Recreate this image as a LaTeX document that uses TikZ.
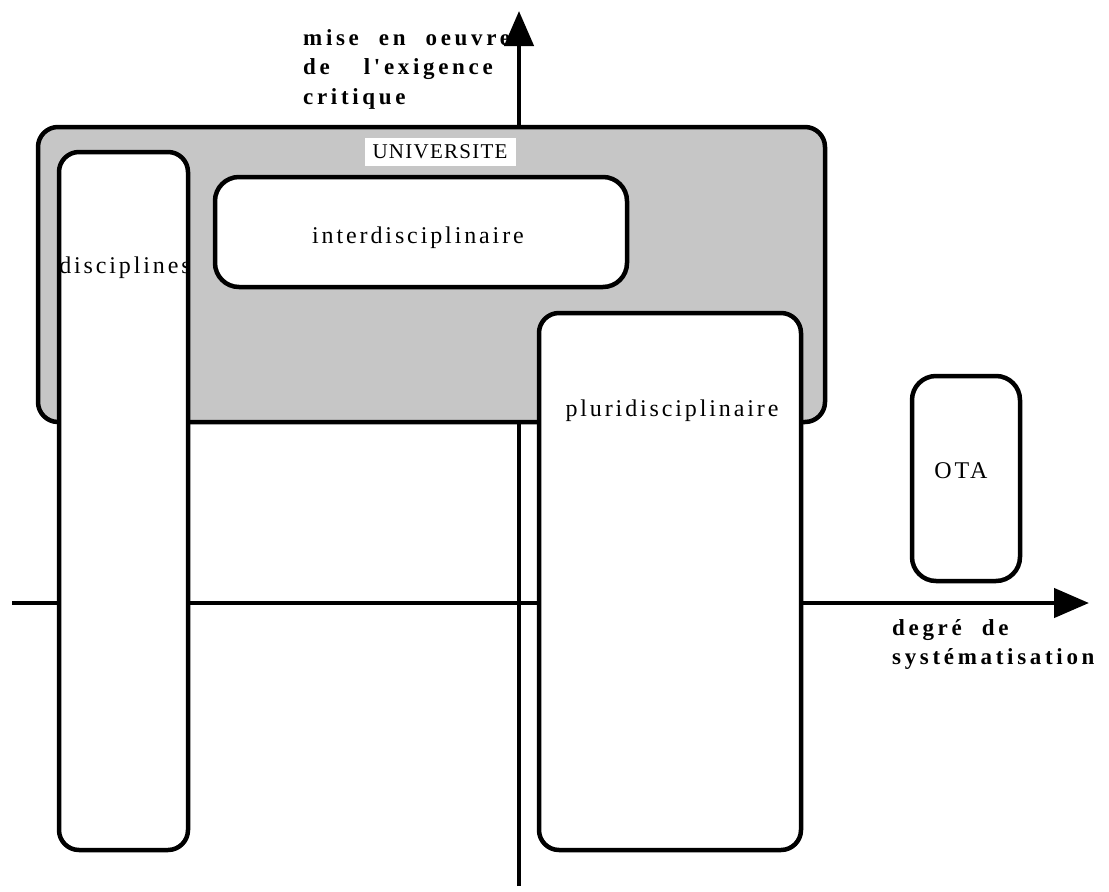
\documentclass[tikz,border=0pt]{standalone}
\usepackage{fontspec}
\setmainfont{Liberation Serif}
\newfontfamily\boxfont[LetterSpace=12]{Liberation Serif}
\newfontfamily\capsfont[LetterSpace=6]{Liberation Serif}
\newfontfamily\axisfont[LetterSpace=16]{Liberation Serif}
\usetikzlibrary{arrows.meta}

\begin{document}
\begin{tikzpicture}[x=1pt,y=-1pt,
  box/.style={draw,fill=white,line width=4.5pt,rounded corners=20pt,inner sep=0pt},
  univbox/.style={box,fill=gray!45},
  boxtext/.style={font=\boxfont\fontsize{24}{28}\selectfont,inner sep=0pt},
  axistext/.style={font=\axisfont\bfseries\fontsize{23}{29.5}\selectfont,align=left,inner sep=0pt,anchor=north west},
  axis/.style={line width=4.5pt,-{Triangle[length=35pt,width=29pt]}}]
\useasboundingbox (0,0) rectangle (1109,892);
\coordinate (xfrom) at (12,603);
\coordinate (xto) at (1089,603);
\coordinate (yfrom) at (519,886);
\coordinate (yto) at (519,11);
\draw[axis] (xfrom) -- (xto);
\draw[axis] (yfrom) -- (yto);
\node[univbox,minimum width=787pt,minimum height=295pt] (univ) at (431.5,274.5) {};
\node[fill=white,inner xsep=8pt,inner ysep=7pt,font=\capsfont\fontsize{21}{24}\selectfont] (univtxt) at (440,152) {UNIVERSITE};
\node[box,minimum width=129pt,minimum height=698pt] (disc) at (123.5,501) {};
\node[box,rounded corners=24pt,minimum width=412pt,minimum height=110pt] (inter) at (421,232) {};
\node[box,minimum width=262pt,minimum height=537pt] (pluri) at (670,581.5) {};
\node[box,rounded corners=24pt,minimum width=108pt,minimum height=205pt] (ota) at (966,478.5) {};
\node[boxtext] (disctxt) at (125,268) {disciplines};
\node[boxtext] (intertxt) at (418,238) {interdisciplinaire};
\node[boxtext] (pluritxt) at (672,411) {pluridisciplinaire};
\node[boxtext] (otatxt) at (961,471) {OTA};
\node[axistext] (ylabel) at (303,29) {mise\hspace{20pt}en\hspace{20pt}oeuvre\\de\hspace{34pt}l'exigence\\critique};
\node[axistext] (xlabel) at (892,619) {degré\hspace{20pt}de\\systématisation};
\end{tikzpicture}
\end{document}
